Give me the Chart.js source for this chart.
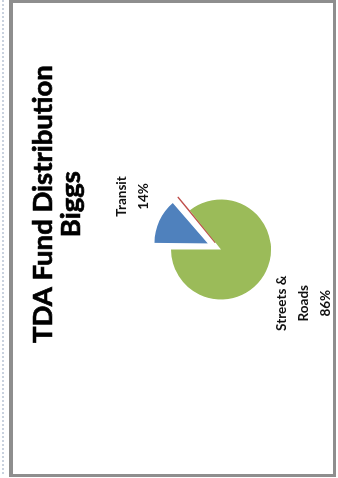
<!DOCTYPE html>
<html>
<head>
<meta charset="utf-8">
<script src="https://cdn.jsdelivr.net/npm/chart.js@4.4.0/dist/chart.umd.min.js"></script>
<style>
  html, body { margin: 0; padding: 0; background: #fff; width: 338px; height: 478px; overflow: hidden; }
  #dots { position: absolute; left: 2px; top: 0; width: 0; height: 474px; border-left: 2px dotted #c9d2df; }
  #frame { position: absolute; left: 0; top: 0; width: 477px; height: 327px;
           transform-origin: 0 0; transform: translate(9px, 477px) rotate(-90deg); background: #fff; }
  #frame canvas { position: absolute; left: 0; top: 0; }
  #border { position: absolute; left: 0; top: 0; width: 477px; height: 327px; box-sizing: border-box;
            border: 3px solid #8e8e8e; border-top-width: 4px; pointer-events: none; }
</style>
</head>
<body>
<div id="dots"></div>
<div id="frame">
  <canvas id="c" width="477" height="327"></canvas>
  <div id="border"></div>
</div>
<script>
// ---- data ----
const titleLines = ["TDA Fund Distribution", "Biggs"];
const categories = ["Transit", "Other", "Streets & Roads"];
const shares = [13.8, 0.5, 85.7];              // percent of TDA funds
const labelLines = [["Transit"], [], ["Streets &", "Roads"]];

const annotate = {
  id: 'annotate',
  afterDatasetsDraw(chart) {
    const ctx = chart.ctx;
    const meta = chart.getDatasetMeta(0);
    const total = shares.reduce((a, b) => a + b, 0);
    ctx.save();
    ctx.fillStyle = '#111';
    ctx.textAlign = 'center';
    ctx.textBaseline = 'middle';
    ctx.font = 'bold 13.5px Lato';
    const lh = 22;
    meta.data.forEach((arc, i) => {
      const lines = labelLines[i];
      if (!lines || !lines.length) return;
      const all = lines.concat([Math.round(shares[i] / total * 100) + '%']);
      const p = arc.getProps(['x', 'y', 'startAngle', 'endAngle', 'outerRadius', 'circumference'], true);
      const off = (arc.options.offset || 0) / 4;
      const fix = 1 - Math.sin(Math.min(Math.PI, p.circumference));
      const mid = (p.startAngle + p.endAngle) / 2;
      const cx = p.x + Math.cos(mid) * off, cy = p.y + Math.sin(mid) * off;
      const r = p.outerRadius + off * fix + 10;
      const ax = cx + Math.cos(mid) * r, ay = cy + Math.sin(mid) * r;
      const w = Math.max(...all.map(s => ctx.measureText(s).width));
      const h = lh * (all.length - 1) + 13;
      const bx = ax + Math.sign(Math.cos(mid)) * w / 2;
      const by = ay + Math.sign(Math.sin(mid)) * h / 2;
      all.forEach((s, k) => ctx.fillText(s, bx, by - (all.length - 1) * lh / 2 + k * lh));
    });
    // chart title
    ctx.fillStyle = '#000';
    ctx.strokeStyle = '#000';
    ctx.lineWidth = 0.7;
    ctx.font = 'bold 27.5px Lato';
    ctx.textBaseline = 'alphabetic';
    const tx = chart.width * 0.572;
    titleLines.forEach((s, k) => {
      ctx.fillText(s, tx, 43 + k * 28);
      ctx.strokeText(s, tx, 43 + k * 28);
    });
    ctx.restore();
  }
};

new Chart(document.getElementById('c'), {
  type: 'pie',
  data: {
    labels: categories,
    datasets: [{
      data: shares,
      backgroundColor: ['#4F81BD', '#C0504D', '#9BBB59'],
      borderColor: ['#ffffff', '#C0504D', '#ffffff'],
      borderWidth: [0, 1.6, 0],
      offset: [58, 36, 0],
      radius: 50
    }]
  },
  options: {
    responsive: false,
    animation: false,
    layout: { padding: { left: 0, right: 22, top: 97, bottom: 0 } },
    plugins: {
      legend: { display: false },
      tooltip: { enabled: false },
      title: { display: false }
    }
  },
  plugins: [annotate]
});
</script>
</body>
</html>
